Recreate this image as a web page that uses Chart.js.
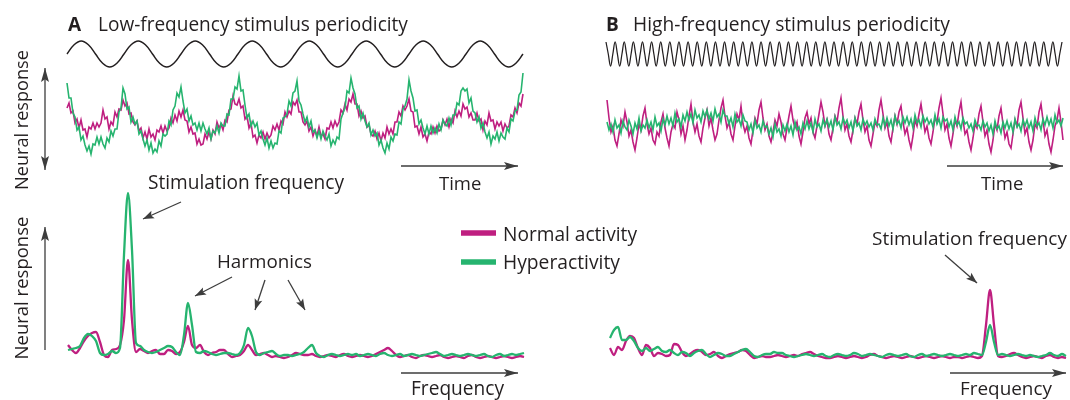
<!DOCTYPE html>
<html><head><meta charset="utf-8">
<script src="https://cdn.jsdelivr.net/npm/chart.js@4.4.1/dist/chart.umd.min.js"></script>
<style>
html,body{margin:0;padding:0;background:#fff;}
#wrap{position:relative;width:1070px;height:400px;overflow:hidden;}
.box{position:absolute;}
.box canvas{display:block;}
svg{position:absolute;left:0;top:0;}
svg text{font-family:"Open Sans","Noto Sans",sans-serif;fill:#231f20;}
</style></head><body>
<div id="wrap">
  <div class="box" style="left:63px;top:37px"><canvas id="cSineA" width="464" height="34"></canvas></div>
  <div class="box" style="left:63px;top:66px"><canvas id="cNoiseA" width="464" height="108"></canvas></div>
  <div class="box" style="left:64px;top:186px"><canvas id="cSpecA" width="464" height="178"></canvas></div>
  <div class="box" style="left:602px;top:38px"><canvas id="cSineB" width="464" height="32"></canvas></div>
  <div class="box" style="left:603px;top:66px"><canvas id="cNoiseB" width="464" height="108"></canvas></div>
  <div class="box" style="left:606px;top:186px"><canvas id="cSpecB" width="464" height="178"></canvas></div>
  <svg id="ov" width="1070" height="400" xmlns="http://www.w3.org/2000/svg"></svg>
</div>
<script>
// ---------------- data ----------------
// stimulus waveforms (relative amplitude)
const stimA = [0,.71,1,.71,0,-.71,-1,-.71, 0,.71,1,.71,0,-.71,-1,-.71, 0,.71,1,.71,0,-.71,-1,-.71, 0,.71,1,.71,0,-.71,-1,-.71,
               0,.71,1,.71,0,-.71,-1,-.71, 0,.71,1,.71,0,-.71,-1,-.71, 0,.71,1,.71,0,-.71,-1,-.71, 0,.71,1,.71,0,-.71,-1,-.71, 0];
const stimB = [1,0,-1,0,1,0,-1,0,1,0,-1,0,1,0,-1,0,1,0,-1,0,1,0,-1,0,1,0,-1,0,1,0,-1,0,1,0,-1,0,1,0,-1,0,
               1,0,-1,0,1,0,-1,0,1,0,-1,0,1,0,-1,0,1,0,-1,0,1,0,-1,0,1,0,-1,0,1,0,-1,0,1,0,-1,0,1,0,-1,0,
               1,0,-1,0,1,0,-1,0,1,0,-1,0,1,0,-1,0,1,0,-1,0,1,0,-1,0,1,0,-1,0,1,0,-1,0,1,0,-1,0,1,0,-1,0,
               1,0,-1,0,1,0,-1,0,1,0,-1,0,1,0,-1,0,1,0,-1,0,1,0,-1,0,1,0,-1,0,1,0,-1,0,1,0,-1,0,1,0,-1,0,
               1,0,-1,0,1,0,-1,0,1,0,-1,0,1,0,-1,0,1,0,-1,0,1,0,-1,0,1,0,-1,0,1,0,-1,0,1,0,-1,0,1,0,-1,0,1];

// neural response over time, low-frequency stimulus (a.u.)
const timeHyperA = [87,72,72,57,53,40,43,30,34,25, 19,24,16,26,25,33,26,33,26,22,
  32,28,39,34,41,41,58,62,82,76, 61,63,48,53,46,49,36,39,31,24, 30,20,27,17,21,18,29,24,36,34,
  36,49,45,60,64,77,73,83,69,57, 61,49,54,45,47,40,47,39,47,41, 36,42,31,39,37,44,37,47,44,44,
  56,55,71,71,83,81,94,79,80,65, 52,56,44,49,43,47,35,39,31,25, 32,22,29,22,27,26,39,37,52,53,
  56,69,64,77,79,89,69,65,56,48, 53,43,49,38,40,32,39,31,39,34, 30,36,24,30,26,33,31,51,57,62,
  79,77,92,82,76,62,64,51,57,49, 43,47,35,40,34,37,25,30,22,17, 27,21,33,29,36,35,48,46,61,64,
  71,90,79,72,59,60,46,50,42,36, 44,36,44,37,42,37,46,40,50,46, 44,52,45,55,55,67,65,79,82,79,
  81,67,72,59,57,48,53,42,47,38, 32,38,26,34,31,38,29,37,33,31, 42,38,51,49,59,60,75,78,97];
const timeNormalA = [62,67,57,59,47,51,42,50,40,41, 33,43,41,47,41,47,43,47,60,51,
  53,41,48,45,58,53,61,60,70,64, 67,56,57,48,45,49,39,42,32,38, 31,41,33,36,30,40,38,44,37,44,
  39,42,52,47,55,49,59,53,60,50, 49,38,43,36,37,26,31,25,26,36, 31,38,31,40,36,48,42,46,40,50,
  48,60,61,74,66,65,71,62,64,51, 54,42,47,33,35,27,35,32,38,31, 37,32,35,44,40,46,40,49,46,58,
  53,59,56,68,65,70,58,58,48,45, 49,39,43,34,40,34,43,34,36,31, 42,41,48,42,49,44,48,60,57,66,
  60,71,68,76,66,66,54,59,52,54, 43,45,36,34,39,31,37,29,37,32, 43,36,41,36,48,48,58,54,64,60,
  64,71,59,58,43,44,36,43,33,36, 29,38,36,43,37,44,39,41,50,45, 51,43,51,47,59,53,59,54,66,61,
  63,53,57,50,50,57,49,51,40,49, 45,57,49,50,41,48,44,48,39,46, 42,44,55,53,62,57,67,64,76];

// neural response over time, high-frequency stimulus (a.u.)
const timeHyperB = [48,40,46,38,50,42,45,37,49,43, 40,50,44,36,47,41,52,39,45,42,
  50,42,48,40,53,44,47,39,51,45, 54,46,52,44,57,48,51,43,55,49, 58,50,56,47,60,52,55,48,59,53,
  60,51,57,49,61,53,56,48,60,54, 54,46,52,43,56,48,51,44,55,49, 48,40,46,37,50,42,45,38,49,43,
  44,36,42,33,46,38,41,34,45,39, 46,38,44,35,48,40,43,36,47,41, 49,41,47,38,51,43,46,39,50,44,
  51,43,49,40,53,45,48,41,52,46, 50,42,48,39,52,44,47,40,51,45, 49,43,47,40,51,45,46,41,52,44,
  52,44,50,41,54,46,49,42,53,47, 53,45,51,42,55,47,50,43,54,48, 52,46,50,43,55,46,51,42,53,49,
  51,43,49,40,53,45,48,41,52,46, 48,42,46,39,50,44,45,40,49,43, 47,39,45,36,49,41,44,37,48,42,
  49,41,47,38,51,43,46,39,50,44, 50,42,48,39,52,44,47,40,51,45, 53,45,51,42,55,47,50,44,52];
const timeNormalB = [70,52,38,44,30,24,36,50,44,58, 48,34,40,28,20,32,46,40,54,62,
  46,36,42,30,26,38,34,48,56,42, 32,24,38,46,42,58,50,36,44,30, 40,54,66,48,38,46,34,28,42,52,
  60,44,52,40,30,36,50,62,70,54, 42,48,36,30,44,56,50,64,46,38, 44,32,26,40,52,46,60,68,52,40,
  46,34,28,38,50,44,56,48,36,30, 42,54,64,50,42,48,34,26,38,52, 58,46,52,38,32,44,56,68,58,44,
  50,36,30,42,54,48,62,72,54,40, 46,34,28,40,52,46,58,66,50,38, 44,30,24,36,48,44,60,70,56,42,
  48,34,28,42,54,46,58,64,48,36, 42,30,22,34,50,44,56,66,52,38, 44,32,26,38,52,48,62,72,56,40,
  46,32,24,36,50,44,58,68,50,36, 40,28,20,32,46,42,56,64,48,34, 40,26,18,30,46,40,54,62,46,32,
  38,26,22,36,50,44,60,68,52,36, 42,28,20,30,46,42,58,66,50,34, 40,26,18,30,44,50,62,48,30];

// spectra (a.u.), low-frequency stimulus
const specHyperA = [10,11,12,14,22,26,24,19,7,5, 6,9,7,12,105,167,110,17,14,10,
  8,7,8,10,12,14,13,8,5,25, 57,35,8,7,9,8,6,5,6,7, 7,6,5,7,15,32,24,8,5,7,
  8,9,6,4,5,5,4,5,6,8, 12,15,7,4,3,5,6,5,4,5, 6,5,6,4,5,6,5,4,6,7,
  5,4,5,6,4,5,6,5,4,5, 6,7,8,6,4,5,6,5,4,5, 6,5,4,5,6,4,3,5,6,4, 5,6,5,6,7];
const specNormalA = [15,10,7,12,19,24,27,28,18,5, 3,10,11,15,40,100,40,8,11,9,
  7,9,10,6,6,10,9,6,8,18, 34,15,12,15,8,5,7,8,10,10, 6,3,4,5,9,15,10,5,6,7,
  5,3,4,3,2,3,5,7,6,5, 5,6,4,3,4,5,4,3,5,6, 4,3,4,5,4,3,4,6,8,10,
  12,9,5,3,4,5,3,2,4,5, 4,3,4,5,3,2,3,4,3,2, 4,5,3,2,3,4,3,2,3,4, 3,2,3,4,3];

// spectra (a.u.), high-frequency stimulus
const specHyperB = [22,30,33,20,20,23,19,12,9,12, 9,11,13,9,8,10,7,5,8,7,
  4,7,9,10,6,3,5,7,6,4, 4,6,8,10,11,8,4,3,5,6, 6,8,7,7,5,4,3,4,5,6,
  5,4,5,6,4,3,5,6,5,4, 5,7,6,4,5,6,5,4,3,5, 6,5,4,5,6,4,3,5,6,4,
  5,6,5,4,5,6,5,4,5,6, 5,7,6,5,18,35,18,5,6,5, 4,5,6,5,4,5,4,3,4,5, 7,5,4,6,4];
const specNormalB = [12,5,13,10,19,24,22,12,5,15, 12,4,7,6,4,5,16,15,8,4,
  6,9,10,8,5,6,8,4,2,4, 6,7,8,10,9,5,2,3,4,3, 3,4,5,4,3,4,5,4,6,7,
  8,6,4,3,2,2,3,4,3,2, 3,4,3,2,3,5,6,4,3,2, 3,4,3,2,3,4,3,2,3,4,
  3,2,3,4,3,2,3,3,2,3, 4,3,2,4,35,70,35,4,3,4, 6,7,5,3,2,3,4,3,2,4, 5,3,2,3,2];

const seriesNames = ['Normal activity', 'Hyperactivity'];

// ---------------- styles ----------------
const MAG = '#bf1f80', GRN = '#26b46f', INK = '#231f20', ARW = '#3d3d3d';

function mk(id, series, ymin, ymax) {
  const n = series[0].data.length;
  return new Chart(document.getElementById(id), {
    type: 'line',
    data: { labels: Array.from({length: n}, (_, i) => i), datasets: series },
    options: {
      responsive: false, animation: false, events: [],
      layout: { padding: 4 },
      plugins: { legend: { display: false }, tooltip: { enabled: false } },
      elements: { point: { radius: 0 } },
      scales: { x: { display: false }, y: { display: false, min: ymin, max: ymax } }
    }
  });
}
const sine = (d, w) => ({ data: d, borderColor: INK, borderWidth: w, tension: 0.4, clip: false, fill: false });
const noisy = (d, c) => ({ data: d, borderColor: c, borderWidth: 1.6, tension: 0, clip: false, fill: false });
const spec = (d, c) => ({ data: d, borderColor: c, borderWidth: 2.3, cubicInterpolationMode: 'monotone', clip: false, fill: false });

mk('cSineA', [sine(stimA, 1.5)], -1, 1);
mk('cSineB', [sine(stimB, 1.25)], -1, 1);
mk('cNoiseA', [noisy(timeHyperA, GRN), noisy(timeNormalA, MAG)], 0, 100);
mk('cNoiseB', [noisy(timeHyperB, GRN), noisy(timeNormalB, MAG)], 0, 100);
mk('cSpecA', [spec(specHyperA, GRN), spec(specNormalA, MAG)], 0, 170);
mk('cSpecB', [spec(specHyperB, GRN), spec(specNormalB, MAG)], 0, 170);

// ---------------- overlay: arrows and text ----------------
const NS = 'http://www.w3.org/2000/svg';
const ov = document.getElementById('ov');
function el(tag, attrs, txt) {
  const e = document.createElementNS(NS, tag);
  for (const k in attrs) e.setAttribute(k, attrs[k]);
  if (txt) e.textContent = txt;
  ov.appendChild(e);
  return e;
}
function head(x1, y1, x2, y2, L, W) {
  const dx = x2 - x1, dy = y2 - y1, d = Math.hypot(dx, dy), ux = dx / d, uy = dy / d;
  const bx = x2 - ux * L, by = y2 - uy * L, px = -uy * W / 2, py = ux * W / 2;
  const nx = x2 - ux * L * 0.8, ny = y2 - uy * L * 0.8;
  el('polygon', { points: `${x2},${y2} ${bx + px},${by + py} ${nx},${ny} ${bx - px},${by - py}`, fill: ARW });
}
function arrow(x1, y1, x2, y2, L, W, both) {
  el('line', { x1, y1, x2, y2, stroke: ARW, 'stroke-width': 1.3 });
  head(x1, y1, x2, y2, L, W);
  if (both) head(x2, y2, x1, y1, L, W);
}
arrow(45, 170, 45, 68, 14, 8, true);
arrow(45, 350, 45, 227, 14, 8, false);
arrow(401, 166, 518, 166, 14, 8);
arrow(947, 166, 1063, 166, 14, 8);
arrow(401, 373, 518, 373, 14, 8);
arrow(950, 373, 1066, 373, 14, 8);
arrow(181, 202, 143, 219, 11, 8);
arrow(232, 277, 195, 296, 11, 8);
arrow(265, 280, 255, 310, 11, 8);
arrow(288, 280, 305, 310, 11, 8);
arrow(945, 255, 977, 283, 11, 8);

// legend swatches
el('line', { x1: 461, y1: 233, x2: 496, y2: 233, stroke: MAG, 'stroke-width': 5.5 });
el('line', { x1: 461, y1: 262, x2: 496, y2: 262, stroke: GRN, 'stroke-width': 5.5 });

const texts = [
  ['A', 68, 31, 0, 19, 'bold'],
  ['Low-frequency stimulus periodicity', 98, 31, 310, 19],
  ['B', 606, 31, 0, 19, 'bold'],
  ['High-frequency stimulus periodicity', 633, 31, 317, 19],
  ['Time', 439, 190, 0, 18.5],
  ['Time', 981, 190, 0, 18.5],
  ['Stimulation frequency', 148, 189, 196, 19],
  ['Harmonics', 217, 268, 95, 19],
  [seriesNames[0], 503, 241, 134, 19],
  [seriesNames[1], 503, 269, 117, 19],
  ['Stimulation frequency', 872, 245, 195, 19],
  ['Frequency', 411, 395, 93, 19],
  ['Frequency', 960, 395, 92, 19]
];
function fit(t, w) {
  if (!w) return;
  const L = t.getComputedTextLength();
  if (L > 0) t.setAttribute('font-size', (parseFloat(t.getAttribute('font-size')) * w / L).toFixed(2));
}
texts.forEach(([s, x, y, w, fs, wt]) => {
  const t = el('text', { x, y, 'font-size': fs, 'font-weight': wt || 'normal' }, s);
  fit(t, w);
});
[[120, 140], [288, 143]].forEach(([cy, w]) => {
  const t = el('text', { x: 28, y: cy, 'font-size': 18, 'text-anchor': 'middle', transform: `rotate(-90 28 ${cy})` }, 'Neural response');
  fit(t, w);
});
</script>
</body></html>
